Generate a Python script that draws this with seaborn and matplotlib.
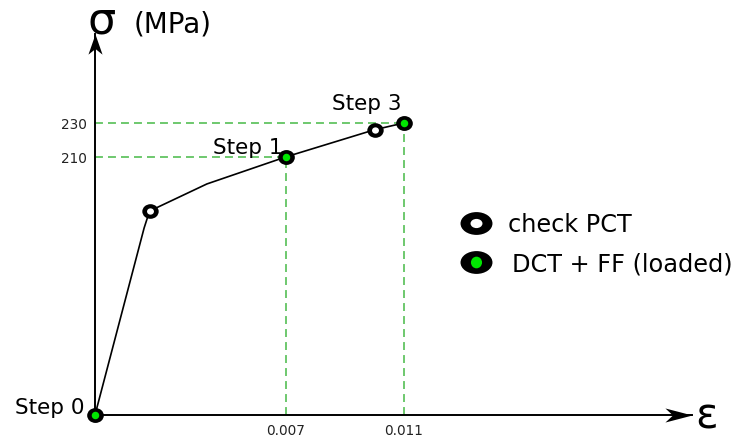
import numpy as np
import matplotlib
matplotlib.use("Agg")
import matplotlib.pyplot as plt
from matplotlib.path import Path
from matplotlib.markers import MarkerStyle
import seaborn as sns
import pandas as pd

# ---------------- data ----------------
strain = [0.0, 0.0018, 0.002, 0.0041, 0.007, 0.010, 0.011]
stress = [0, 168, 178, 194, 210, 226, 230]

pct_strain = [0.002, 0.010]          # "check PCT" points
pct_stress = [178, 226]
dct_strain = [0.0, 0.007, 0.011]     # "DCT + FF (loaded)" points
dct_stress = [0, 210, 230]
step_labels = ["Step 0", "Step 1", "Step 3"]

xtick_vals = [0.007, 0.011]
xtick_labels = ["0.007", "0.011"]
ytick_vals = [210, 230]
ytick_labels = ["210", "230"]
legend_labels = ["check PCT", "DCT + FF (loaded)"]

# ---------------- style ----------------
sns.set_theme(style="white")
plt.rcParams["font.family"] = ["DejaVu Sans"]

W, H = 740, 439
fig = plt.figure(figsize=(W / 100, H / 100), dpi=100)

# main axes: origin at pixel (95, 416), x tip at 692, y tip at 35
L, R, T, B = 95, 692, 35, 416
ax = fig.add_axes([L / W, (H - B) / H, (R - L) / W, (B - T) / H])
ax.patch.set_alpha(0)

# schematic (piecewise-linear) scales
xs_a = np.array([-1.0, 0.0, 0.007, 0.011, 1.0])
xp_a = np.array([-27286.0, 0.0, 191.0, 309.0, 309.0 + 0.989 * 29500])
ys_a = np.array([-1000.0, 0.0, 168.0, 1000.0])
yp_a = np.array([-1113.0, 0.0, 187.0, 187.0 + 832 * 1.694])


def fx(v):
    return np.interp(np.asarray(v, dtype=float), xs_a, xp_a)


def fx_inv(p):
    return np.interp(np.asarray(p, dtype=float), xp_a, xs_a)


def fy(v):
    return np.interp(np.asarray(v, dtype=float), ys_a, yp_a)


def fy_inv(p):
    return np.interp(np.asarray(p, dtype=float), yp_a, ys_a)


ax.set_xscale("function", functions=(fx, fx_inv))
ax.set_yscale("function", functions=(fy, fy_inv))
ax.set_xlim(0, float(fx_inv(R - L)))
ax.set_ylim(0, float(fy_inv(B - T)))

for s in ["top", "right"]:
    ax.spines[s].set_visible(False)
for s in ["left", "bottom"]:
    ax.spines[s].set_linewidth(1.4)
    ax.spines[s].set_color("black")

ax.set_xticks(xtick_vals)
ax.set_xticklabels(xtick_labels)
ax.set_yticks(ytick_vals)
ax.set_yticklabels(ytick_labels)
ax.minorticks_off()
ax.tick_params(axis="both", length=0, labelsize=9.8, labelcolor="#222222")
ax.tick_params(axis="x", pad=5.5)
ax.tick_params(axis="y", pad=5.5)
ax.grid(False)

# guide lines
gcol = "#62c462"
dash = (0, (4.4, 2.8))
for sx, sy in zip(dct_strain[1:], dct_stress[1:]):
    ax.plot([0, sx], [sy, sy], color=gcol, lw=1.3, ls=dash, zorder=1)
    ax.plot([sx, sx], [0, sy], color=gcol, lw=1.3, ls=dash, zorder=1)

# curve
df = pd.DataFrame({"strain": strain, "stress": stress})
sns.lineplot(data=df, x="strain", y="stress", sort=False, estimator=None,
             color="black", lw=1.2, ax=ax, zorder=3)
ax.set_xlabel("")
ax.set_ylabel("")


def ell(aspect):
    c = Path.unit_circle()
    v = c.vertices.copy()
    v[:, 1] /= aspect
    return MarkerStyle(Path(v, c.codes))


green = "#00e600"
# check PCT markers
ax.plot(pct_strain, pct_stress, ls="none", marker=ell(1.12), ms=11.8,
        mfc="black", mec="black", mew=0, zorder=5, clip_on=False)
ax.plot(pct_strain, pct_stress, ls="none", marker=ell(1.1), ms=5.0,
        mfc="white", mew=0, zorder=6, clip_on=False)
# DCT + FF markers
ax.plot(dct_strain, dct_stress, ls="none", marker=ell(1.12), ms=12.0,
        mfc="black", mec="black", mew=0, zorder=5, clip_on=False)
ax.plot(dct_strain, dct_stress, ls="none", marker=ell(1.0), ms=5.4,
        mfc=green, mew=0, zorder=6, clip_on=False)

# axis arrowheads (notched)
right_arrow = MarkerStyle(Path([(0, 0), (-1, 0.26), (-0.72, 0), (-1, -0.26), (0, 0)],
                               [Path.MOVETO, Path.LINETO, Path.LINETO, Path.LINETO, Path.CLOSEPOLY]))
up_arrow = MarkerStyle(Path([(0, 0), (0.35, -1), (0, -0.72), (-0.35, -1), (0, 0)],
                            [Path.MOVETO, Path.LINETO, Path.LINETO, Path.LINETO, Path.CLOSEPOLY]))
ax.plot([1], [0], marker=right_arrow, ms=39, color="black", mew=0,
        transform=ax.transAxes, clip_on=False, zorder=7)
ax.plot([0], [1], marker=up_arrow, ms=29, color="black", mew=0,
        transform=ax.transAxes, clip_on=False, zorder=7)

# ---------------- overlay in pixel coordinates for text & legend ----------------
ov = fig.add_axes([0, 0, 1, 1])
ov.set_xlim(0, W)
ov.set_ylim(H, 0)
ov.axis("off")
ov.patch.set_alpha(0)

ov.text(102, 33, "σ", fontsize=32, ha="center", va="baseline", color="black")
ov.text(134, 32, "(MPa)", fontsize=20, ha="left", va="baseline", color="black")
ov.text(707, 429, "ε", fontsize=30, ha="center", va="baseline", color="black")

step_pos = [(15, 414), (213, 154), (332, 110)]
for lab, (px, py) in zip(step_labels, step_pos):
    ov.text(px, py, lab, fontsize=15.5, ha="left", va="baseline", color="black")

# legend
ov.plot([476], [224], ls="none", marker=ell(1.4), ms=23, mfc="black", mew=0)
ov.plot([476], [224], ls="none", marker=ell(1.3), ms=8.6, mfc="white", mew=0)
ov.plot([476], [263], ls="none", marker=ell(1.4), ms=23, mfc="black", mew=0)
ov.plot([476], [263], ls="none", marker=ell(0.95), ms=8.4, mfc=green, mew=0)
ov.text(508, 232, legend_labels[0], fontsize=17.3, ha="left", va="baseline", color="black")
ov.text(512, 272, legend_labels[1], fontsize=17.3, ha="left", va="baseline", color="black")

fig.savefig("out.png", dpi=100, facecolor="white")
